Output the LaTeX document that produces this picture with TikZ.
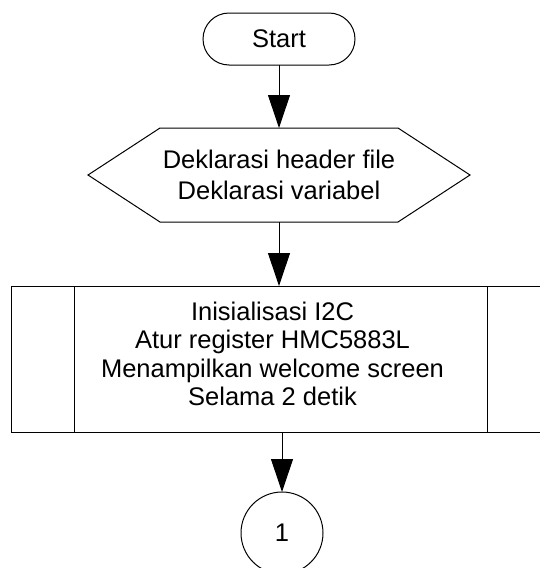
\documentclass[tikz,border=0pt]{standalone}
\usepackage{fontspec}
\setmainfont{Liberation Sans}
\usetikzlibrary{shapes.misc,arrows.meta,calc}
\tikzset{
  base/.style={font=\fontsize{25.5}{28.3}\selectfont, inner sep=0pt, outer sep=0pt, line width=1pt, align=center},
  term/.style={base, draw, rounded rectangle, minimum width=152pt, minimum height=52pt, text depth=1.5pt},
  prep/.style={base, minimum width=382pt, minimum height=94pt, font=\fontsize{25.5}{31.5}\selectfont},
  proc/.style={base, draw, rectangle, minimum width=539pt, minimum height=146pt},
  conn/.style={base, draw, circle, minimum size=82pt},
  flow/.style={line width=1pt, -{Triangle[width=22pt,length=33pt]}},
  edge/.style={line width=1pt}
}
\begin{document}
\begin{tikzpicture}[x=1pt,y=1pt]
\useasboundingbox (0,0) rectangle (540,-568);
\node[term] (s) at (279,-39) {Start};
\node[prep] (h) at (279,-175) {Deklarasi header file\\Deklarasi variabel};
\draw[edge] (h.west) -- ($(h.north west)+(72,0)$) -- ($(h.north east)+(-72,0)$) -- (h.east)
  -- ($(h.south east)+(-72,0)$) -- ($(h.south west)+(72,0)$) -- cycle;
\node[proc] (p) at (280.5,-359) {};
\node[base, anchor=center] (pt) at ([xshift=-8pt,yshift=5pt]p.center) {Inisialisasi I2C\\Atur register HMC5883L\\Menampilkan welcome screen\\Selama 2 detik};
\draw[edge] ([xshift=63pt]p.north west) -- ([xshift=63pt]p.south west);
\draw[edge] ([xshift=-63pt]p.north east) -- ([xshift=-63pt]p.south east);
\node[conn] (c) at (282,-533) {1};
\draw[flow] (s.south) -- (s.south |- h.north);
\draw[flow] (h.south) -- (h.south |- p.north);
\draw[flow] (c.north |- p.south) -- (c.north);
\end{tikzpicture}
\end{document}
